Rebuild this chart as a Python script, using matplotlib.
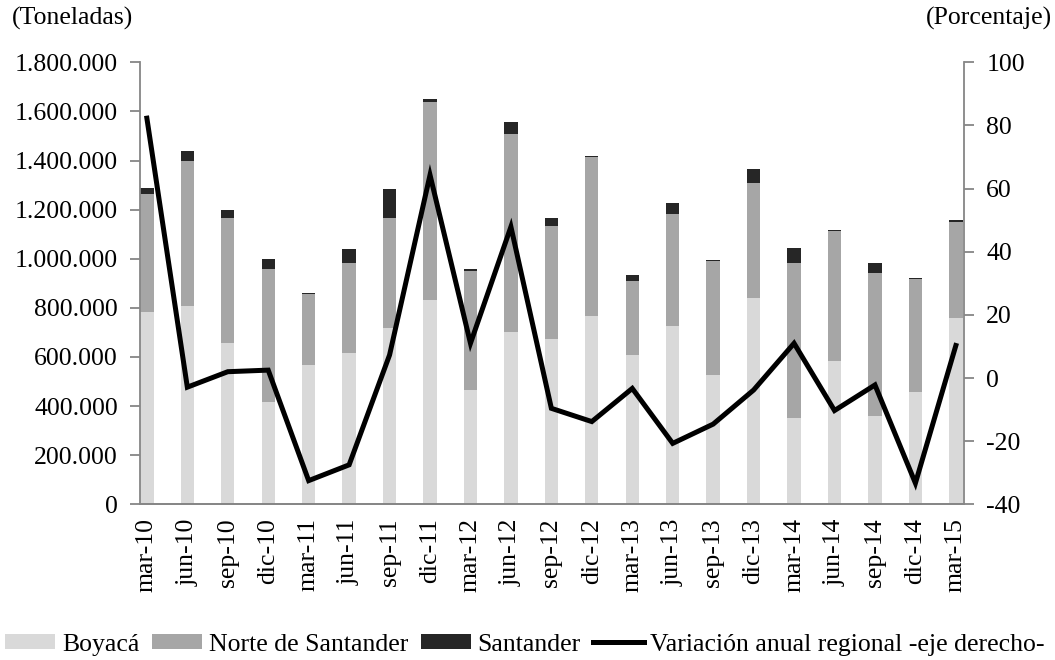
import numpy as np
import matplotlib.pyplot as plt

plt.rcParams['font.family'] = ['Liberation Serif', 'DejaVu Serif']
plt.rcParams['axes.unicode_minus'] = False

# Datos (toneladas y porcentaje)
periodos = ['mar-10', 'jun-10', 'sep-10', 'dic-10', 'mar-11', 'jun-11', 'sep-11',
            'dic-11', 'mar-12', 'jun-12', 'sep-12', 'dic-12', 'mar-13', 'jun-13',
            'sep-13', 'dic-13', 'mar-14', 'jun-14', 'sep-14', 'dic-14', 'mar-15']
boyaca = [785000, 808000, 656000, 418000, 567000, 616000, 720000,
          832000, 466000, 703000, 672000, 768000, 608000, 728000,
          527000, 839000, 352000, 584000, 360000, 456000, 760000]
norte = [479000, 590000, 510000, 540000, 288000, 367000, 446000,
         805000, 486000, 806000, 463000, 645000, 303000, 455000,
         464000, 471000, 631000, 527000, 584000, 462000, 391000]
santander = [23000, 39000, 31000, 39000, 7000, 56000, 119000,
             14000, 7000, 47000, 30000, 7000, 23000, 46000,
             5000, 56000, 62000, 5000, 38000, 5000, 5000]
variacion = [82.3, -2.9, 2.0, 2.5, -32.5, -27.5, 7.3,
             64.3, 11.0, 47.9, -9.6, -13.8, -3.3, -20.7,
             -14.6, -3.8, 11.0, -10.3, -2.2, -33.3, 10.3]

c_boy = '#d9d9d9'
c_nor = '#a6a6a6'
c_san = '#262626'
gris = '#868686'
fs = 18.5

fig = plt.figure(figsize=(10.55, 6.6), dpi=100)
ax = fig.add_axes([0.1327, 0.2359, 0.7810, 0.6697])
x = np.arange(len(periodos))
w = 0.33

b1 = ax.bar(x, boyaca, w, color=c_boy, label='Boyacá')
b2 = ax.bar(x, norte, w, bottom=boyaca, color=c_nor, label='Norte de Santander')
base2 = np.array(boyaca) + np.array(norte)
b3 = ax.bar(x, santander, w, bottom=base2, color=c_san, label='Santander')

ax.set_xlim(-0.17, len(periodos) - 0.8)
ax.set_ylim(0, 1800000)
ax.set_yticks(np.arange(0, 1800001, 200000))
ax.set_yticklabels([f'{v:,.0f}'.replace(',', '.') for v in np.arange(0, 1800001, 200000)])
ax.set_xticks(x)
ax.set_xticklabels(periodos, rotation=90)

ax2 = ax.twinx()
ln, = ax2.plot(x, variacion, color='black', lw=3.6, solid_joinstyle='miter',
               label='Variación anual regional -eje derecho-')
ax2.set_ylim(-40, 100)
ax2.set_yticks(np.arange(-40, 101, 20))

for a in (ax, ax2):
    a.spines['top'].set_visible(False)
    for s in ('left', 'right', 'bottom'):
        a.spines[s].set_color(gris)
        a.spines[s].set_linewidth(1.3)
    a.tick_params(axis='y', colors=gris, length=7, width=1.3, labelsize=fs,
                  labelcolor='black', pad=9)
ax.tick_params(axis='x', length=0, labelsize=fs, pad=10)
ax2.spines['left'].set_visible(False)
ax.spines['right'].set_visible(False)

fig.text(0.011, 0.972, '(Toneladas)', fontsize=fs, va='center', ha='left')
fig.text(0.997, 0.972, '(Porcentaje)', fontsize=fs, va='center', ha='right')

fig.legend([b1, b2, b3, ln], [b1.get_label(), b2.get_label(), b3.get_label(), ln.get_label()],
           loc='center left', bbox_to_anchor=(0.005, 0.023), ncol=4, frameon=False,
           fontsize=fs, handlelength=1.95, handleheight=0.55, handletextpad=0.25,
           columnspacing=0.5, borderaxespad=0, borderpad=0)

fig.savefig('out.png', dpi=100)
